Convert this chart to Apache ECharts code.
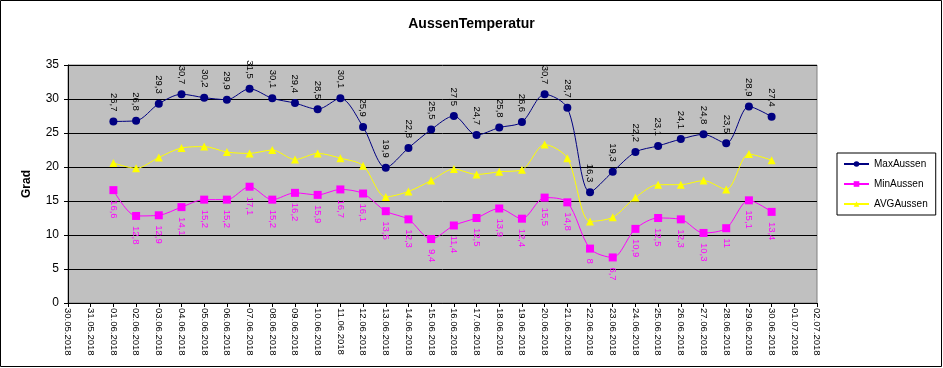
<!DOCTYPE html>
<html>
<head>
<meta charset="utf-8">
<script src="https://cdn.jsdelivr.net/npm/echarts@6/dist/echarts.min.js"></script>
<style>
html,body{margin:0;padding:0;background:#fff;}
#chart{width:943px;height:368px;}
</style>
</head>
<body>
<div id="chart"></div>
<script>
const categories = ["30.05.2018","31.05.2018","01.06.2018","02.06.2018","03.06.2018","04.06.2018","05.06.2018","06.06.2018","07.06.2018","08.06.2018","09.06.2018","10.06.2018","11.06.2018","12.06.2018","13.06.2018","14.06.2018","15.06.2018","16.06.2018","17.06.2018","18.06.2018","19.06.2018","20.06.2018","21.06.2018","22.06.2018","23.06.2018","24.06.2018","25.06.2018","26.06.2018","27.06.2018","28.06.2018","29.06.2018","30.06.2018","01.07.2018","02.07.2018"];
const maxAussen = [null,null,26.7,26.8,29.3,30.7,30.2,29.9,31.5,30.1,29.4,28.5,30.1,25.9,19.9,22.8,25.5,27.5,24.7,25.8,26.6,30.7,28.7,16.3,19.3,22.2,23.1,24.1,24.8,23.5,28.9,27.4,null,null];
const minAussen = [null,null,16.6,12.8,12.9,14.1,15.2,15.2,17.1,15.2,16.2,15.9,16.7,16.1,13.5,12.3,9.4,11.4,12.5,13.9,12.4,15.5,14.8,8,6.7,10.9,12.5,12.3,10.3,11,15.1,13.4,null,null];
const avgAussen = [null,null,20.6,19.8,21.4,22.8,23.0,22.2,22.0,22.5,21.1,22.0,21.3,20.2,15.6,16.4,18.0,19.7,18.9,19.3,19.6,23.3,21.3,12.0,12.6,15.5,17.4,17.4,18.0,16.7,21.9,21.0,null,null];
const yTicks = {min:0, max:35, interval:5};

const fmt = p => String(p.value).replace('.', ',');
const chart = echarts.init(document.getElementById('chart'), null, {renderer:'canvas'});
chart.setOption({
  animation:false,
  backgroundColor:'#fff',
  textStyle:{fontFamily:'Liberation Sans, Arial, sans-serif'},
  title:{text:'AussenTemperatur', left:'center', top:12,
    textStyle:{fontSize:14, fontWeight:'bold', color:'#000', fontFamily:'Liberation Sans, Arial, sans-serif'}},
  graphic:[{type:'rect', shape:{x:0.5,y:0.5,width:941,height:366}, style:{fill:'none', stroke:'#000', lineWidth:1}, silent:true, z:-1}],
  grid:{left:68, right:126, top:65, bottom:65, show:true, backgroundColor:'#C0C0C0', borderColor:'#808080', borderWidth:1},
  legend:{orient:'vertical', left:837, top:153, padding:[5,8,5,6], itemGap:8, itemWidth:25, itemHeight:7,
    backgroundColor:'#fff', borderColor:'#000', borderWidth:1,
    textStyle:{fontSize:10, color:'#000', lineHeight:12, fontFamily:'Liberation Sans, Arial, sans-serif'},
    data:['MaxAussen','MinAussen','AVGAussen']},
  xAxis:{type:'category', data:categories, boundaryGap:false,
    axisLine:{lineStyle:{color:'#000', width:1}},
    axisTick:{show:true, inside:false, length:4, interval:0, lineStyle:{color:'#000'}},
    axisLabel:{rotate:-90, interval:0, fontSize:9.5, color:'#000', margin:5},
    splitLine:{show:false}},
  yAxis:{type:'value', min:yTicks.min, max:yTicks.max, interval:yTicks.interval,
    name:'Grad', nameLocation:'middle', nameGap:35, nameRotate:90,
    nameTextStyle:{fontSize:12, fontWeight:'bold', color:'#000'},
    axisLine:{show:true, lineStyle:{color:'#000', width:1}},
    axisTick:{show:true, inside:false, length:4, lineStyle:{color:'#000'}},
    axisLabel:{fontSize:12, color:'#000', margin:9},
    splitLine:{show:true, lineStyle:{color:'#000', width:1}}},
  series:[
    {name:'MaxAussen', type:'line', data:maxAussen, smooth:0.3, symbol:'circle', symbolSize:8,
      itemStyle:{color:'#000080'}, lineStyle:{color:'#000080', width:1},
      label:{show:true, position:'top', distance:6, rotate:-90, align:'right', verticalAlign:'middle', fontSize:9.5, color:'#000', overflow:'none', width:null, formatter:fmt}},
    {name:'MinAussen', type:'line', data:minAussen, smooth:0.3, symbol:'rect', symbolSize:8,
      itemStyle:{color:'#FF00FF'}, lineStyle:{color:'#FF00FF', width:1},
      label:{show:true, position:'bottom', distance:6, rotate:-90, align:'left', verticalAlign:'middle', fontSize:9.5, color:'#FF00FF', overflow:'none', formatter:fmt}},
    {name:'AVGAussen', type:'line', data:avgAussen, smooth:0.3, symbol:'triangle', symbolSize:8,
      itemStyle:{color:'#FFFF00'}, lineStyle:{color:'#FFFF00', width:1},
      label:{show:false}}
  ]
});
</script>
</body>
</html>
